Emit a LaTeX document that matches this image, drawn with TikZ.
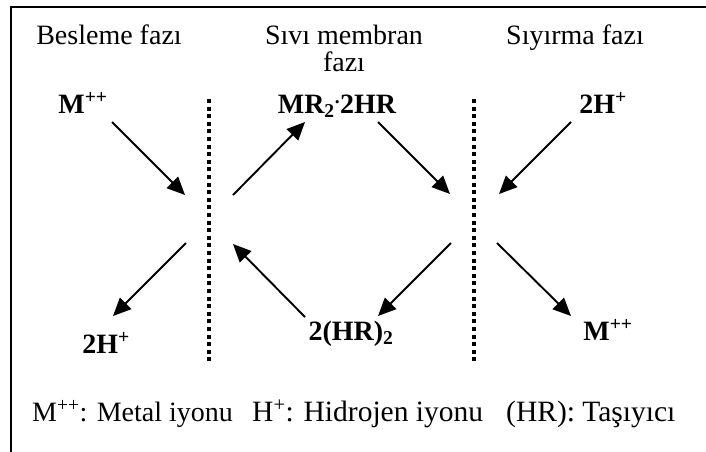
\documentclass[tikz,border=0pt]{standalone}
\usepackage{fontspec}
\setmainfont{Liberation Serif}
\usetikzlibrary{arrows.meta}
\tikzset{
  lbl/.style={anchor=base, inner sep=0pt, font=\fontsize{28}{27}\selectfont, align=center},
  chem/.style={lbl, font=\fontsize{28}{27}\selectfont\bfseries},
  leg/.style={lbl, anchor=base west},
  legwide/.style={leg, font=\fontsize{29.5}{27}\selectfont},
  arr/.style={line width=1.9pt, -{Triangle[length=18pt,width=16pt]}},
  membrane/.style={line width=3.6pt, dash pattern=on 4pt off 3.6pt},
  frame/.style={line width=2pt}
}
\begin{document}
\begin{tikzpicture}[x=1pt,y=-1pt]
\useasboundingbox (0,0) rectangle (706,451);
\begin{scope}
\clip (0,0) rectangle (706,451);
\draw[frame] (11,7) rectangle (760,500);
\end{scope}
% phase titles
\node[lbl] (feed) at (109,44) {Besleme faz\i};
\node[lbl] (memb) at (344,71) {S\i v\i{} membran\\faz\i};
\node[lbl] (strip) at (575,44) {S\i y\i rma faz\i};
% membranes
\coordinate (m1t) at (209,99);
\coordinate (m1b) at (209,364);
\coordinate (m2t) at (474,99);
\coordinate (m2b) at (474,364);
\draw[membrane] (m1t) -- (m1b);
\draw[membrane] (m2t) -- (m2b);
% species
\node[chem] (Mfeed) at (83,113) {M\textsuperscript{++}};
\node[chem] (complex) at (337,113) {MR\textsubscript{2}\textsuperscript{.}2HR};
\node[chem] (Hstrip) at (603,113) {2H\textsuperscript{+}};
\node[chem] (Hfeed) at (106,353) {2H\textsuperscript{+}};
\node[chem] (carrier) at (351,340) {2(HR)\textsubscript{2}};
\node[chem] (Mstrip) at (608,340) {M\textsuperscript{++}};
% arrow end points
\coordinate (a1s) at (112,122); \coordinate (a1e) at (185,195);
\coordinate (a2s) at (233,195); \coordinate (a2e) at (305,122);
\coordinate (a3s) at (378,122); \coordinate (a3e) at (450,194);
\coordinate (a4s) at (571,122); \coordinate (a4e) at (499,194);
\coordinate (a5s) at (186,243); \coordinate (a5e) at (113,316);
\coordinate (a6s) at (305,317); \coordinate (a6e) at (233,244);
\coordinate (a7s) at (451,243); \coordinate (a7e) at (378,316);
\coordinate (a8s) at (497,243); \coordinate (a8e) at (571,316);
\draw[arr] (a1s) -- (a1e);
\draw[arr] (a2s) -- (a2e);
\draw[arr] (a3s) -- (a3e);
\draw[arr] (a4s) -- (a4e);
\draw[arr] (a5s) -- (a5e);
\draw[arr] (a6s) -- (a6e);
\draw[arr] (a7s) -- (a7e);
\draw[arr] (a8s) -- (a8e);
% legend
\node[leg] (legM) at (32,421) {M\textsuperscript{++}: Metal iyonu};
\node[legwide] (legH) at (252,421) {H\textsuperscript{+}: Hidrojen iyonu};
\node[legwide] (legHR) at (506,421) {(HR): Ta\c{s}\i y\i c\i};
\end{tikzpicture}
\end{document}
